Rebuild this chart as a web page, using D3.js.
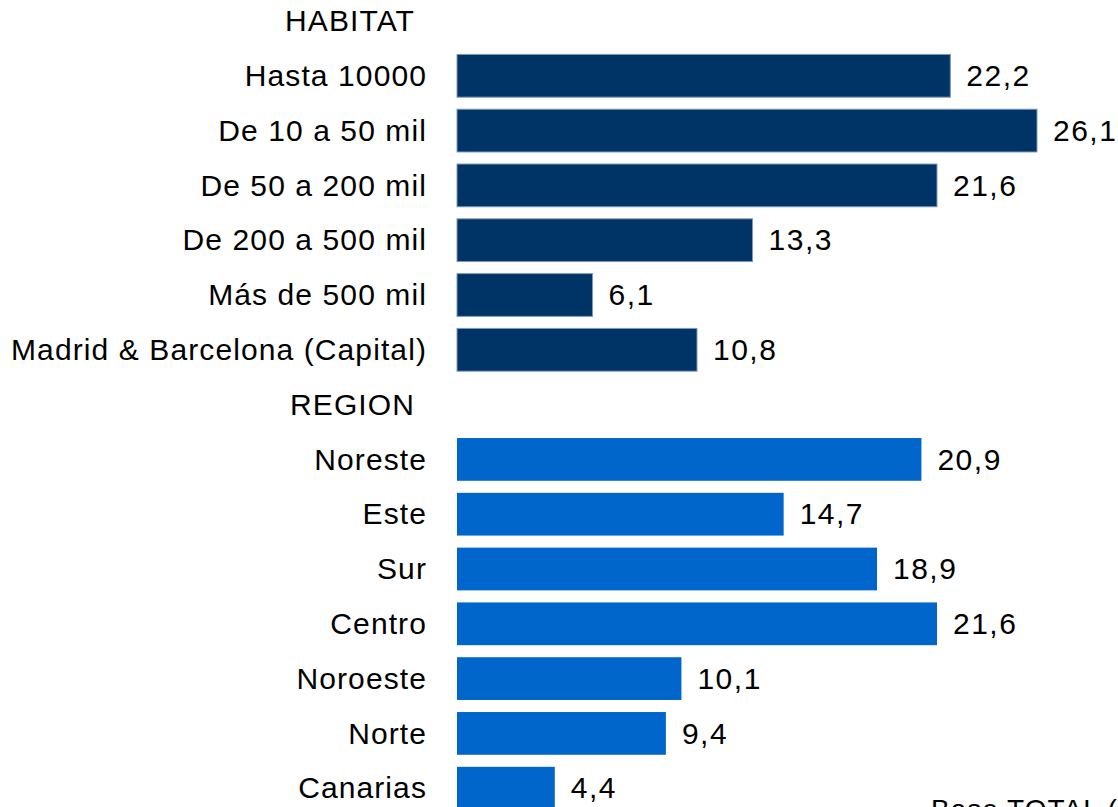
<!DOCTYPE html>
<html>
<head>
<meta charset="utf-8">
<script src="https://cdn.jsdelivr.net/npm/d3@7"></script>
<style>
  html, body { margin: 0; padding: 0; background: #ffffff; overflow: hidden; }
  svg { display: block; }
  text { font-family: "Liberation Sans", Arial, sans-serif; fill: #000; }
</style>
</head>
<body>
<svg id="chart" width="1118" height="807"></svg>
<script>
// ---- data ----
const habitatCategories = ["Hasta 10000", "De 10 a 50 mil", "De 50 a 200 mil", "De 200 a 500 mil", "Más de 500 mil", "Madrid & Barcelona (Capital)"];
const habitatValues = [22.2, 26.1, 21.6, 13.3, 6.1, 10.8];
const regionCategories = ["Noreste", "Este", "Sur", "Centro", "Noroeste", "Norte", "Canarias"];
const regionValues = [20.9, 14.7, 18.9, 21.6, 10.1, 9.4, 4.4];
const groupHeaders = ["HABITAT", "REGION"];
const footnote = "Base TOTAL (%)";

// ---- build rows ----
const rows = [];
rows.push({ id: "h0", label: groupHeaders[0], header: true });
habitatCategories.forEach((c, i) => rows.push({ id: "a" + i, label: c, value: habitatValues[i], group: 0 }));
rows.push({ id: "h1", label: groupHeaders[1], header: true });
regionCategories.forEach((c, i) => rows.push({ id: "b" + i, label: c, value: regionValues[i], group: 1 }));

const colors = ["#003366", "#0066CC"];
const svg = d3.select("#chart");

const barX0 = 457;
const x = d3.scaleLinear().domain([0, 26.1]).range([barX0, 1037]);
const step = 54.8;
const y = d3.scaleBand()
  .domain(rows.map(r => r.id))
  .range([21 - step / 2, 21 + step * (rows.length - 0.5)])
  .paddingInner(0.22)
  .paddingOuter(0.11);

const fmt = v => d3.format(".1f")(v).replace(".", ",");

const g = svg.append("g");

// bars
g.selectAll("rect.bar")
  .data(rows.filter(r => !r.header))
  .join("rect")
  .attr("class", "bar")
  .attr("x", x(0))
  .attr("y", d => y(d.id))
  .attr("width", d => x(d.value) - x(0))
  .attr("height", y.bandwidth())
  .attr("fill", d => colors[d.group])
  .attr("stroke", d => d.group === 0 ? "#7f99b8" : "none")
  .attr("stroke-width", 1);

// category labels
g.selectAll("text.cat")
  .data(rows)
  .join("text")
  .attr("class", "cat")
  .attr("x", d => d.header ? 415 : 427)
  .attr("y", d => y(d.id) + y.bandwidth() / 2)
  .attr("dy", "0.34em")
  .attr("text-anchor", "end")
  .style("font-size", "30px")
  .style("letter-spacing", "1.1px")
  .text(d => d.label);

// value labels
g.selectAll("text.val")
  .data(rows.filter(r => !r.header))
  .join("text")
  .attr("class", "val")
  .attr("x", d => x(d.value) + 16)
  .attr("y", d => y(d.id) + y.bandwidth() / 2)
  .attr("dy", "0.34em")
  .style("font-size", "30px")
  .style("letter-spacing", "1.5px")
  .text(d => fmt(d.value));

// footnote (cut off at bottom edge, as in the reference)
svg.append("text")
  .attr("x", 931)
  .attr("y", 819)
  .style("font-size", "28px")
  .style("letter-spacing", "1px")
  .text(footnote);
</script>
</body>
</html>
